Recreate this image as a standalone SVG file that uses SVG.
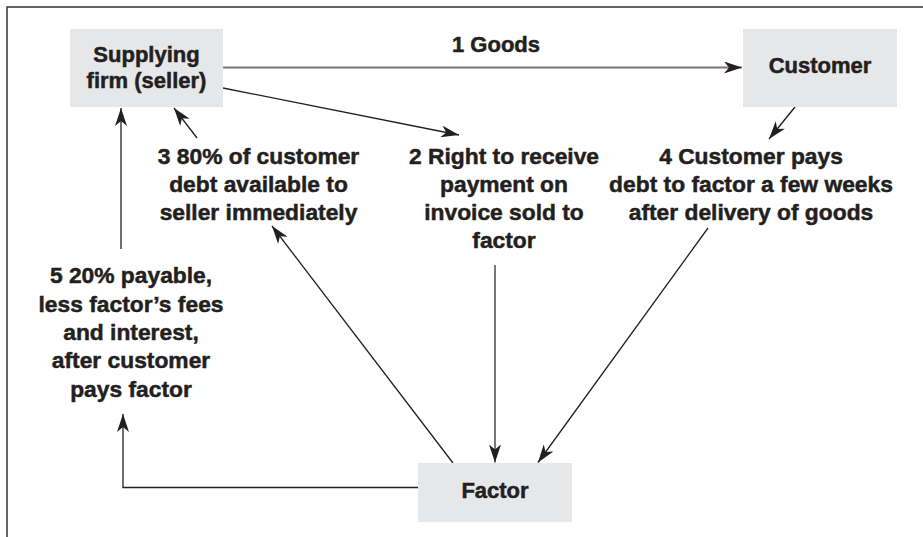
<svg xmlns="http://www.w3.org/2000/svg" width="923" height="537" viewBox="0 0 923 537">
<style>
.box{fill:#e6e7e8;}
.t{font-family:"Liberation Sans",Arial,sans-serif;font-weight:bold;fill:#231f20;stroke:#231f20;stroke-width:0.5;text-anchor:middle;}
.n{font-size:22px;}
.l{font-size:22.8px;}
.thin{fill:none;stroke:#231f20;stroke-width:1.3;}
.thick{fill:none;stroke:#777;stroke-width:2;}
</style>
<defs>
<marker id="ah" viewBox="-18 -6 19 12" refX="0" refY="0" markerWidth="19" markerHeight="12" markerUnits="userSpaceOnUse" orient="auto">
<path d="M0,0 L-18,-6 L-13,0 L-18,6 Z" fill="#231f20"/>
</marker>
</defs>
<rect width="923" height="537" fill="#fff"/>
<path d="M7,537 V7 H923" fill="none" stroke="#333" stroke-width="1.5"/>

<g id="connectors">
<path class="thick" d="M223,67.5 H742" marker-end="url(#ah)"/>
<path class="thin" d="M223,88 L459,135" marker-end="url(#ah)"/>
<path class="thin" d="M197,138 L174,108" marker-end="url(#ah)"/>
<path class="thin" d="M453,463 L272,226" marker-end="url(#ah)"/>
<path class="thin" d="M795,107 L769,139" marker-end="url(#ah)"/>
<path class="thin" d="M708,228 L538,462.5" marker-end="url(#ah)"/>
<path class="thick" d="M495,265 V462.5" marker-end="url(#ah)"/>
<path class="thin" d="M418,487.5 H123 V414" marker-end="url(#ah)"/>
<path class="thin" d="M121,249 V108" marker-end="url(#ah)"/>
</g>

<g id="node-seller">
<rect class="box" x="70" y="29" width="153" height="78"/>
<text class="t n" x="146.5" y="62.3">Supplying</text>
<text class="t n" x="146.5" y="88">firm (seller)</text>
</g>

<g id="node-customer">
<rect class="box" x="743" y="29" width="154" height="78"/>
<text class="t n" x="820" y="73">Customer</text>
</g>

<g id="node-factor">
<rect class="box" x="418" y="463" width="154" height="59"/>
<text class="t n" x="495" y="498.3">Factor</text>
</g>

<g id="label-1">
<text class="t n" x="496" y="51.7">1 Goods</text>
</g>

<g id="label-2">
<text class="t l" x="504" y="163.5">2 Right to receive</text>
<text class="t l" x="504" y="191.8">payment on</text>
<text class="t l" x="504" y="220">invoice sold to</text>
<text class="t l" x="504" y="248.3">factor</text>
</g>

<g id="label-3">
<text class="t l" x="258.5" y="163.5">3 80% of customer</text>
<text class="t l" x="258.5" y="191.8">debt available to</text>
<text class="t l" x="258.5" y="219.5">seller immediately</text>
</g>

<g id="label-4">
<text class="t l" x="751" y="163.5">4 Customer pays</text>
<text class="t l" x="751" y="191.8">debt to factor a few weeks</text>
<text class="t l" x="751" y="220">after delivery of goods</text>
</g>

<g id="label-5">
<text class="t l" x="131" y="283.3">5 20% payable,</text>
<text class="t l" x="131" y="311.6">less factor’s fees</text>
<text class="t l" x="131" y="340">and interest,</text>
<text class="t l" x="131" y="368.3">after customer</text>
<text class="t l" x="131" y="396.6">pays factor</text>
</g>
</svg>
